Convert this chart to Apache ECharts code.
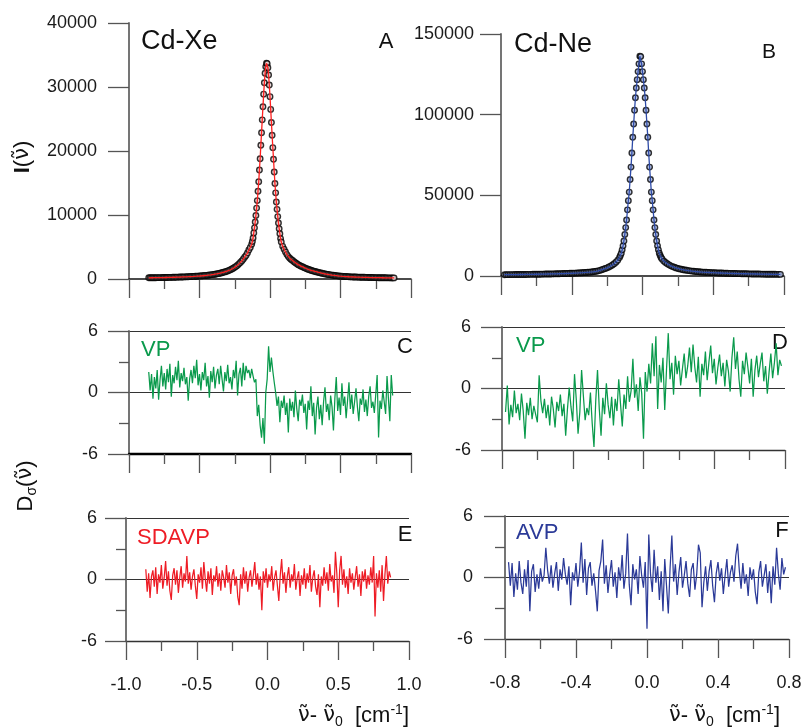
<!DOCTYPE html>
<html>
<head>
<meta charset="utf-8">
<script src="https://cdn.jsdelivr.net/npm/echarts@6/dist/echarts.min.js"></script>
<style>html,body{margin:0;padding:0;background:#fff}#c{width:803px;height:728px}</style>
</head>
<body>
<div id="c"></div>
<script>
// ---------- Data ----------
// Panel A: Cd-Xe spectrum
const xXeSpec = [-0.86,-0.85,-0.84,-0.83,-0.82,-0.81,-0.80,-0.79,-0.78,-0.77,
-0.76,-0.75,-0.74,-0.73,-0.72,-0.71,-0.70,-0.69,-0.68,-0.67,
-0.66,-0.65,-0.64,-0.63,-0.62,-0.61,-0.60,-0.59,-0.58,-0.57,
-0.56,-0.55,-0.54,-0.53,-0.52,-0.51,-0.50,-0.49,-0.48,-0.47,
-0.46,-0.45,-0.44,-0.43,-0.42,-0.41,-0.40,-0.39,-0.38,-0.37,
-0.36,-0.35,-0.34,-0.33,-0.32,-0.31,-0.30,-0.29,-0.28,-0.27,
-0.26,-0.25,-0.24,-0.23,-0.22,-0.21,-0.20,-0.19,-0.18,
-0.17,-0.16,-0.15,-0.14,-0.13,
-0.125,-0.12,-0.115,-0.11,-0.105,-0.10,-0.095,-0.09,-0.085,-0.08,-0.075,-0.07,-0.065,-0.06,-0.055,-0.05,-0.045,-0.04,-0.035,-0.03,-0.025,-0.02,-0.015,-0.01,-0.005,0.0,0.005,0.01,0.015,0.02,0.025,0.03,0.035,0.04,0.045,0.05,0.055,0.06,0.065,0.07,0.075,0.08,
0.09,0.10,0.11,0.12,0.13,0.14,0.15,
0.16,0.17,0.18,0.19,0.20,0.21,0.22,0.23,0.24,0.25,
0.26,0.27,0.28,0.29,0.30,0.31,0.32,0.33,0.34,0.35,
0.36,0.37,0.38,0.39,0.40,0.41,0.42,0.43,0.44,0.45,
0.46,0.47,0.48,0.49,0.50,0.51,0.52,0.53,0.54,0.55,
0.56,0.57,0.58,0.59,0.60,0.61,0.62,0.63,0.64,0.65,
0.66,0.67,0.68,0.69,0.70,0.71,0.72,0.73,0.74,0.75,
0.76,0.77,0.78,0.79,0.80,0.81,0.82,0.83,0.84,0.85,
0.86,0.87,0.88];
const yXeSpec = [187,190,194,197,201,205,209,213,218,222,
227,232,237,242,247,253,259,265,272,279,
286,293,301,310,319,328,337,347,358,369,
381,394,407,421,436,452,469,487,505,526,
548,572,596,623,651,682,715,752,791,833,
878,929,984,1045,1110,1183,1262,1351,1448,1561,
1686,1825,1976,2160,2365,2580,2810,3095,3410,
3670,4060,4530,4940,5430,
5860,6410,7200,7990,8900,9920,11080,12250,13710,15200,17030,18800,20900,22840,24870,26910,28880,30660,32140,33180,33700,33650,33010,31870,30320,28490,26500,24460,22450,20520,18720,16720,14920,13460,12030,10880,9750,8750,7860,7080,6310,5770,
5100,4650,4220,3810,3500,3250,3050,
2880,2700,2530,2380,2240,2120,2010,1905,1805,1700,
1600,1520,1443,1370,1300,1235,1173,1113,1057,1000,
945,893,843,798,755,715,678,645,613,580,
550,520,491,468,447,429,411,395,380,364,
348,338,329,320,312,304,296,288,281,274,
268,262,256,248,240,234,228,223,218,213,
209,204,200,196,192,188,185,182,179,176,
173,170,168];

// Panel B: Cd-Ne spectrum
const xNeSpec = [-0.78,-0.77,-0.76,-0.75,-0.74,-0.73,-0.72,-0.71,-0.70,-0.69,
-0.68,-0.67,-0.66,-0.65,-0.64,-0.63,-0.62,-0.61,-0.60,-0.59,
-0.58,-0.57,-0.56,-0.55,-0.54,-0.53,-0.52,-0.51,-0.50,-0.49,
-0.48,-0.47,-0.46,-0.45,-0.44,-0.43,-0.42,-0.41,-0.40,-0.39,
-0.38,-0.37,-0.36,-0.35,-0.34,-0.33,-0.32,-0.31,-0.30,-0.29,
-0.28,-0.27,-0.26,-0.25,-0.24,-0.23,-0.22,-0.21,-0.20,-0.19,
-0.18,-0.17,-0.16,-0.15,-0.14,
-0.13,-0.125,-0.12,-0.115,-0.11,-0.105,-0.10,-0.095,-0.09,-0.085,-0.08,-0.075,-0.07,-0.065,-0.06,-0.055,-0.05,-0.045,-0.04,-0.035,-0.03,-0.025,-0.02,-0.015,-0.01,-0.005,0.0,0.005,0.01,0.015,0.02,0.025,0.03,0.035,0.04,0.045,0.05,0.055,0.06,0.065,0.07,0.075,0.08,0.085,0.09,0.095,0.10,0.105,0.11,
0.12,0.13,0.14,0.15,0.16,0.17,0.18,0.19,0.20,0.21,
0.22,0.23,0.24,0.25,0.26,0.27,0.28,0.29,0.30,0.31,
0.32,0.33,0.34,0.35,0.36,0.37,0.38,0.39,0.40,0.41,
0.42,0.43,0.44,0.45,0.46,0.47,0.48,0.49,0.50,0.51,
0.52,0.53,0.54,0.55,0.56,0.57,0.58,0.59,0.60,0.61,
0.62,0.63,0.64,0.65,0.66,0.67,0.68,0.69,0.70,0.71,
0.72,0.73,0.74,0.75,0.76,0.77,0.78];
const yNeSpec = [820,832,845,855,865,877,890,902,915,930,
945,960,975,992,1010,1027,1045,1065,1085,1107,
1130,1152,1175,1200,1225,1252,1280,1310,1340,1370,
1400,1435,1470,1505,1540,1580,1620,1660,1700,1750,
1800,1860,1920,1985,2050,2125,2200,2290,2380,2490,
2600,2750,2900,3180,3500,3850,4270,4640,5060,5560,
6150,6830,7620,8600,9800,
11500,12700,14100,16200,18700,21700,25700,30000,34700,41000,46700,52000,59800,67500,76200,86000,94200,102700,110500,116500,121700,126700,131500,136200,136000,131500,126700,121700,116500,110500,102700,94200,86000,76200,67500,59800,52000,46700,41000,34700,30000,25700,21700,18700,16200,14100,12700,11500,10600,
9300,8400,7600,6900,6300,5820,5400,5030,4700,4410,
4150,3910,3700,3520,3350,3190,3050,2920,2800,2700,
2600,2510,2430,2350,2280,2220,2160,2100,2050,2000,
1950,1905,1860,1815,1770,1730,1690,1655,1620,1585,
1550,1520,1490,1460,1430,1405,1380,1355,1330,1305,
1280,1260,1240,1220,1200,1180,1160,1140,1120,1105,
1090,1075,1060,1045,1030,1015,1000];

// Residual grids
const xXeRes = [-0.86,-0.85,-0.84,-0.83,-0.82,-0.81,-0.80,-0.79,-0.78,-0.77,
-0.76,-0.75,-0.74,-0.73,-0.72,-0.71,-0.70,-0.69,-0.68,-0.67,
-0.66,-0.65,-0.64,-0.63,-0.62,-0.61,-0.60,-0.59,-0.58,-0.57,
-0.56,-0.55,-0.54,-0.53,-0.52,-0.51,-0.50,-0.49,-0.48,-0.47,
-0.46,-0.45,-0.44,-0.43,-0.42,-0.41,-0.40,-0.39,-0.38,-0.37,
-0.36,-0.35,-0.34,-0.33,-0.32,-0.31,-0.30,-0.29,-0.28,-0.27,
-0.26,-0.25,-0.24,-0.23,-0.22,-0.21,-0.20,-0.19,-0.18,-0.17,
-0.16,-0.15,-0.14,-0.13,-0.12,-0.11,-0.10,-0.09,-0.08,-0.07,
-0.06,-0.05,-0.04,-0.03,-0.02,-0.01,0.00,0.01,0.02,0.03,
0.04,0.05,0.06,0.07,0.08,0.09,0.10,0.11,0.12,0.13,
0.14,0.15,0.16,0.17,0.18,0.19,0.20,0.21,0.22,0.23,
0.24,0.25,0.26,0.27,0.28,0.29,0.30,0.31,0.32,0.33,
0.34,0.35,0.36,0.37,0.38,0.39,0.40,0.41,0.42,0.43,
0.44,0.45,0.46,0.47,0.48,0.49,0.50,0.51,0.52,0.53,
0.54,0.55,0.56,0.57,0.58,0.59,0.60,0.61,0.62,0.63,
0.64,0.65,0.66,0.67,0.68,0.69,0.70,0.71,0.72,0.73,
0.74,0.75,0.76,0.77,0.78,0.79,0.80,0.81,0.82,0.83,
0.84,0.85,0.86,0.87];
// Panel C: VP residual, Cd-Xe
const vpXe = [2.0,0.2,1.8,-0.6,1.5,0.4,2.2,-0.7,1.2,2.6,
0.6,1.9,0.3,2.3,1.0,2.8,-0.4,1.7,0.9,2.5,
1.2,3.1,0.5,1.9,1.1,2.4,0.8,1.5,-0.8,1.3,
2.2,0.9,2.6,1.4,3.2,0.7,1.8,0.2,2.0,1.2,
2.9,0.6,1.6,-0.5,2.1,1.0,2.5,0.4,1.7,2.3,
0.8,2.6,1.3,0.1,2.0,1.1,2.7,0.9,1.5,0.3,
2.2,1.4,3.1,-0.3,1.8,2.4,0.6,2.9,1.2,2.6,
1.9,2.2,1.4,2.3,1.6,1.0,1.3,-2.3,-1.2,-3.2,
-4.4,-2.5,-5.0,0.0,1.3,4.5,2.0,3.4,2.1,1.0,
0.0,-1.3,-0.4,-2.9,-0.8,-1.5,-0.3,-2.2,-1.0,-3.9,
-0.6,-1.8,-0.9,-2.4,0.2,-1.6,-2.8,-0.7,-1.3,-0.2,
-2.0,-1.1,-3.6,-0.8,-1.7,0.6,-2.3,-1.0,-4.1,-1.5,
-0.4,-2.6,-1.2,-3.2,-0.9,0.5,-1.9,-1.1,-2.7,-0.3,
-1.4,-3.7,-0.6,1.5,-1.8,-0.5,-2.2,0.9,-1.3,-0.4,
-2.5,-0.8,1.0,-1.6,-0.2,-2.1,-0.9,0.4,-1.4,-2.8,
-0.6,-1.2,0.3,-1.9,-0.7,-2.3,-0.4,0.6,-1.5,-0.9,
-2.0,-0.2,1.7,-4.4,-0.8,-1.6,0.2,-0.9,-2.1,1.6,
-0.6,-2.8,1.7,-0.3];
// Panel E: SDAVP residual, Cd-Xe
const sdavpXe = [1.0,-1.2,0.6,-1.8,0.3,0.9,-0.7,1.2,-1.4,0.5,
-0.3,1.4,-0.9,0.2,1.8,-0.6,0.8,-1.1,-2.0,0.4,
1.1,-0.5,0.9,-1.3,0.2,1.3,-0.8,0.6,-0.2,2.3,
-0.4,0.7,-1.0,0.3,1.0,-0.6,-1.9,0.5,-0.3,1.2,
-0.9,1.7,0.1,-1.2,0.8,-0.4,1.1,-1.5,0.4,-0.2,
1.3,-0.7,0.6,-1.1,0.9,0.2,-0.8,1.4,-0.3,0.7,
-1.4,0.4,1.0,-0.6,0.3,-1.7,-2.5,0.5,-0.9,1.2,
-0.4,0.8,-1.2,0.2,0.9,-0.7,0.4,1.7,-0.5,0.6,
-1.0,0.3,-3.0,0.8,-0.3,1.1,-0.8,0.5,-0.2,1.3,
-1.1,0.2,0.9,-0.6,-2.1,0.4,2.0,-0.4,0.7,-1.3,
0.3,1.2,-0.8,0.5,-0.2,1.5,-1.0,0.1,0.8,-1.6,
0.4,-0.5,1.1,-0.9,0.6,-0.3,1.4,-1.2,0.2,0.9,
-0.7,-1.5,0.5,-2.7,0.3,-0.6,1.2,-0.4,0.7,-1.1,
1.5,-0.2,0.4,-1.3,2.7,0.6,-2.7,0.9,2.3,-0.5,
1.0,-0.8,0.3,-1.4,1.1,-0.3,0.6,-1.0,0.2,1.3,
-0.7,0.5,-1.6,0.8,-0.2,1.0,-0.9,0.4,-0.5,1.2,
-0.3,2.3,-3.6,0.6,-0.8,0.9,-1.2,1.4,-2.1,0.5,
2.3,-0.4,0.8,0.2];

const xNeRes = [-0.78,-0.77,-0.76,-0.75,-0.74,-0.73,-0.72,-0.71,-0.70,-0.69,
-0.68,-0.67,-0.66,-0.65,-0.64,-0.63,-0.62,-0.61,-0.60,-0.59,
-0.58,-0.57,-0.56,-0.55,-0.54,-0.53,-0.52,-0.51,-0.50,-0.49,
-0.48,-0.47,-0.46,-0.45,-0.44,-0.43,-0.42,-0.41,-0.40,-0.39,
-0.38,-0.37,-0.36,-0.35,-0.34,-0.33,-0.32,-0.31,-0.30,-0.29,
-0.28,-0.27,-0.26,-0.25,-0.24,-0.23,-0.22,-0.21,-0.20,-0.19,
-0.18,-0.17,-0.16,-0.15,-0.14,-0.13,-0.12,-0.11,-0.10,-0.09,
-0.08,-0.07,-0.06,-0.05,-0.04,-0.03,-0.02,-0.01,0.00,0.01,
0.02,0.03,0.04,0.05,0.06,0.07,0.08,0.09,0.10,0.11,
0.12,0.13,0.14,0.15,0.16,0.17,0.18,0.19,0.20,0.21,
0.22,0.23,0.24,0.25,0.26,0.27,0.28,0.29,0.30,0.31,
0.32,0.33,0.34,0.35,0.36,0.37,0.38,0.39,0.40,0.41,
0.42,0.43,0.44,0.45,0.46,0.47,0.48,0.49,0.50,0.51,
0.52,0.53,0.54,0.55,0.56,0.57,0.58,0.59,0.60,0.61,
0.62,0.63,0.64,0.65,0.66,0.67,0.68,0.69,0.70,0.71,
0.72,0.73,0.74,0.75,0.76,0.77,0.78];
// Panel D: VP residual, Cd-Ne
const vpNe = [-2.3,0.3,-3.5,-1.6,-2.8,-0.2,-2.4,-1.5,-3.1,-0.5,
-2.2,-4.9,-1.4,-2.6,-0.9,-3.0,-1.7,-2.5,-3.3,1.3,
-1.2,-2.4,-1.0,-2.9,-1.6,-3.6,-0.8,-2.0,-3.8,-1.3,
-2.2,-0.6,-2.7,-1.5,-4.6,-2.0,0.1,-1.8,-3.2,1.4,
-1.1,-4.4,-2.3,1.8,-0.7,-3.1,-1.9,-2.6,-0.4,-3.4,
-5.7,-1.2,1.8,-2.0,-4.6,-0.9,-2.5,0.5,-1.6,-2.9,
-0.8,-3.6,-1.0,-2.2,0.9,-1.5,-3.7,-0.6,-2.0,1.2,
-1.3,-0.2,2.9,-0.9,0.4,-2.2,1.1,-0.5,-4.9,1.6,
-0.3,2.4,0.5,4.4,1.2,5.1,-2.0,2.3,0.6,3.0,
-2.1,1.8,5.4,0.9,2.5,-0.6,3.2,1.4,2.7,0.3,
1.9,3.4,1.0,2.2,4.0,1.6,4.3,2.1,0.6,3.1,
-0.8,2.4,1.3,3.6,0.8,2.6,4.2,1.5,2.9,0.4,
2.0,3.3,1.2,2.5,0.2,2.8,1.7,-0.3,3.0,5.0,
1.9,3.6,0.9,-0.8,2.7,1.4,3.5,2.1,0.5,2.9,
-0.8,1.8,3.2,1.1,2.4,3.5,0.7,2.2,-0.5,1.6,
3.4,1.0,2.5,4.4,1.3,2.8,2.2];
// Panel F: AVP residual, Cd-Ne
const avpNe = [1.5,-0.8,1.4,-1.9,0.4,-1.2,1.6,-0.5,-1.6,0.8,
-0.9,1.7,-3.3,0.6,1.3,-1.4,0.3,-1.1,0.9,-0.4,
0.2,2.9,0.7,-0.6,1.2,-1.0,0.4,1.5,-1.3,0.8,
-0.2,1.9,0.3,-0.7,1.1,-2.7,0.5,-0.3,1.4,-0.9,
0.6,3.4,-0.5,1.8,-1.7,0.9,1.5,-0.8,0.4,-1.3,
-3.3,0.7,1.6,3.7,-0.6,1.2,-1.5,0.3,1.7,-0.9,
0.5,-2.0,1.0,-0.3,2.2,-1.1,0.4,4.3,-0.7,-2.7,
1.3,-0.2,0.8,-1.6,2.1,0.2,-1.0,1.5,-5.0,4.2,
0.3,-1.4,2.7,-0.5,1.1,-2.2,0.6,-3.3,1.8,-0.8,
-3.5,0.9,4.1,-0.4,1.3,-1.7,0.5,2.0,-1.0,0.2,
1.6,-0.6,-1.9,0.8,1.4,-1.2,0.3,3.2,2.4,-2.9,
-0.5,1.1,-1.3,0.6,1.7,-0.8,-2.4,0.4,1.5,-0.3,
0.9,-1.6,0.2,1.8,-0.9,0.5,1.2,-0.4,2.1,3.3,
0.7,-1.1,1.4,-0.6,0.3,-1.8,1.0,-0.2,0.8,-1.4,
-2.6,0.5,1.6,-0.9,0.2,1.3,-1.5,0.6,-2.5,1.1,
-0.7,2.9,0.4,-1.2,1.9,0.3,1.0];

// Axis ranges / ticks
const xXeAxis = {min: -1.0, max: 1.0, interval: 0.5};
const xNeAxis = {min: -0.8, max: 0.8, interval: 0.4};
const yXeSpecAxis = {min: 0, max: 40000, interval: 10000};
const yNeSpecAxis = {min: 0, max: 150000, interval: 50000};
const yResAxis = {min: -6, max: 6, interval: 6};

// ---------- Chart ----------
const FONT = "'Liberation Sans', Arial, Helvetica, sans-serif";
const GFONT = "'DejaVu Sans', sans-serif";
const GREEN = '#0a9a4c', RED = '#ee1c25', BLUE = '#2b3a98';
const pairs = (xs, ys) => xs.map((x, i) => [x, ys[i]]);
const fmt1 = v => (Math.abs(v) < 1e-9 ? 0 : v).toFixed(1);

function xAx(grid, rng, opts) {
  opts = opts || {};
  return {
    type: 'value', gridIndex: grid, min: rng.min, max: rng.max, interval: rng.interval,
    axisLine: {show: true, onZero: false, lineStyle: {color: opts.lineColor || '#222', width: opts.lineWidth || 1.3}},
    axisTick: {show: true, inside: false, length: 19, lineStyle: {color: '#555', width: 1.3}},
    minorTick: {show: true, splitNumber: 2, length: 10, lineStyle: {color: '#555', width: 1.3}},
    axisLabel: {show: !!opts.labels, fontSize: 18, color: '#1a1a1a', fontFamily: FONT, margin: 35, formatter: fmt1},
    splitLine: {show: false}, minorSplitLine: {show: false}
  };
}
function yAx(grid, rng, opts) {
  opts = opts || {};
  return {
    type: 'value', gridIndex: grid, min: rng.min, max: rng.max, interval: rng.interval,
    axisLine: {show: true, onZero: false, lineStyle: {color: '#666', width: 1.8}},
    axisTick: {show: true, inside: false, length: 21, lineStyle: {color: '#555', width: 1.3}},
    minorTick: {show: !!opts.minor, splitNumber: 2, length: 10, lineStyle: {color: '#555', width: 1.3}},
    axisLabel: {show: true, fontSize: 18, color: '#1a1a1a', fontFamily: FONT, margin: opts.margin || 31, formatter: v => String(v)},
    splitLine: {show: !!opts.split, lineStyle: {color: '#333', width: 1.2}},
    minorSplitLine: {show: false}
  };
}

function txt(x, y, text, size, color, align) {
  return {
    type: 'text', x: x, y: y, silent: true,
    style: {text: text, fontSize: size, fontFamily: FONT, fill: color || '#111', align: align || 'center', verticalAlign: 'middle'}
  };
}
function richTxt(x, y, text, align, rotation) {
  return {
    type: 'text', x: x, y: y, rotation: rotation || 0, silent: true,
    style: {text: text, rich: richBase, fontFamily: FONT, fill: '#111', align: align || 'center', verticalAlign: 'middle'}
  };
}
const NU = '\u03BD\u0303';
const richBase = {
  n: {fontSize: 22, fontFamily: FONT, fill: '#111', lineHeight: 26, verticalAlign: 'middle'},
  g: {fontSize: 21, fontFamily: GFONT, fill: '#111', lineHeight: 26, verticalAlign: 'middle'},
  b: {fontSize: 22, fontFamily: FONT, fill: '#111', fontWeight: 'bold', lineHeight: 26, verticalAlign: 'middle'},
  sub: {fontSize: 14, fontFamily: FONT, fill: '#111', lineHeight: 14, verticalAlign: 'bottom'},
  sup: {fontSize: 14, fontFamily: FONT, fill: '#111', lineHeight: 14, verticalAlign: 'top'}
};
const xTitle = '{g|' + NU + '}{n|- }{g|' + NU + '}{sub|0}{n|  [cm}{sup|-1}{n|]}';

const chart = echarts.init(document.getElementById('c'), null, {renderer: 'canvas'});
chart.setOption({
  animation: false,
  backgroundColor: '#fff',
  grid: [
    {left: 129, top: 23, width: 282, height: 256, outerBoundsMode: 'none'},
    {left: 501, top: 34, width: 283, height: 242, outerBoundsMode: 'none'},
    {left: 129, top: 331, width: 282, height: 123, outerBoundsMode: 'none'},
    {left: 502, top: 327, width: 283, height: 123, outerBoundsMode: 'none'},
    {left: 126, top: 518, width: 283, height: 123, outerBoundsMode: 'none'},
    {left: 505, top: 516, width: 284, height: 123, outerBoundsMode: 'none'}
  ],
  xAxis: [
    xAx(0, xXeAxis, {lineColor: '#111', lineWidth: 1.5}),
    xAx(1, xNeAxis, {lineColor: '#111', lineWidth: 1.5}),
    xAx(2, xXeAxis, {lineColor: '#000', lineWidth: 2.4}),
    xAx(3, xNeAxis, {lineColor: '#333', lineWidth: 1.4}),
    xAx(4, xXeAxis, {lineColor: '#333', lineWidth: 1.4, labels: true}),
    xAx(5, xNeAxis, {lineColor: '#333', lineWidth: 1.4, labels: true})
  ],
  yAxis: [
    yAx(0, yXeSpecAxis, {margin: 32}),
    yAx(1, yNeSpecAxis, {margin: 27}),
    yAx(2, yResAxis, {minor: true, split: true}),
    yAx(3, yResAxis, {minor: true, split: true}),
    yAx(4, yResAxis, {minor: true, split: true, margin: 29}),
    yAx(5, yResAxis, {minor: true, split: true, margin: 32})
  ],
  series: [
    {type: 'scatter', xAxisIndex: 0, yAxisIndex: 0, data: pairs(xXeSpec, yXeSpec), symbol: 'circle', symbolSize: 5.5,
     itemStyle: {color: '#e6d0d0', borderColor: '#000', borderWidth: 1.4}, z: 2},
    {type: 'line', xAxisIndex: 0, yAxisIndex: 0, data: pairs(xXeSpec, yXeSpec), showSymbol: false, symbol: 'none',
     lineStyle: {color: '#ff1f1f', width: 1.3}, z: 3},
    {type: 'scatter', xAxisIndex: 1, yAxisIndex: 1, data: pairs(xNeSpec, yNeSpec), symbol: 'circle', symbolSize: 5.5,
     itemStyle: {color: '#aab8e0', borderColor: '#000', borderWidth: 1.4}, z: 2},
    {type: 'line', xAxisIndex: 1, yAxisIndex: 1, data: pairs(xNeSpec, yNeSpec), showSymbol: false, symbol: 'none',
     lineStyle: {color: '#2d4aa6', width: 1.3}, z: 3},
    {type: 'line', xAxisIndex: 2, yAxisIndex: 2, data: pairs(xXeRes, vpXe), symbol: 'none', lineStyle: {color: GREEN, width: 1.25}, z: 3},
    {type: 'line', xAxisIndex: 3, yAxisIndex: 3, data: pairs(xNeRes, vpNe), symbol: 'none', lineStyle: {color: GREEN, width: 1.25}, z: 3},
    {type: 'line', xAxisIndex: 4, yAxisIndex: 4, data: pairs(xXeRes, sdavpXe), symbol: 'none', lineStyle: {color: RED, width: 1.25}, z: 3},
    {type: 'line', xAxisIndex: 5, yAxisIndex: 5, data: pairs(xNeRes, avpNe), symbol: 'none', lineStyle: {color: BLUE, width: 1.25}, z: 3}
  ],
  graphic: [
    txt(141, 42, 'Cd-Xe', 27, '#111', 'left'),
    txt(386, 42, 'A', 22),
    txt(514, 45, 'Cd-Ne', 27, '#111', 'left'),
    txt(769, 52, 'B', 21),
    txt(141, 350, 'VP', 22, GREEN, 'left'),
    txt(405, 347, 'C', 22),
    txt(516, 346, 'VP', 22, GREEN, 'left'),
    txt(780, 343, 'D', 22),
    txt(137, 538, 'SDAVP', 22, RED, 'left'),
    txt(405, 535, 'E', 22),
    txt(516, 533, 'AVP', 22, BLUE, 'left'),
    txt(782, 531, 'F', 22),
    richTxt(23, 157, '{b|I}{n|(}{g|' + NU + '}{n|)}', 'center', Math.PI / 2),
    richTxt(26, 486, '{n|D}{sub|\u03C3}{n|(}{g|' + NU + '}{n|)}', 'center', Math.PI / 2),
    richTxt(409, 716, xTitle, 'right'),
    richTxt(780, 716, xTitle, 'right')
  ]
});
</script>
</body>
</html>
